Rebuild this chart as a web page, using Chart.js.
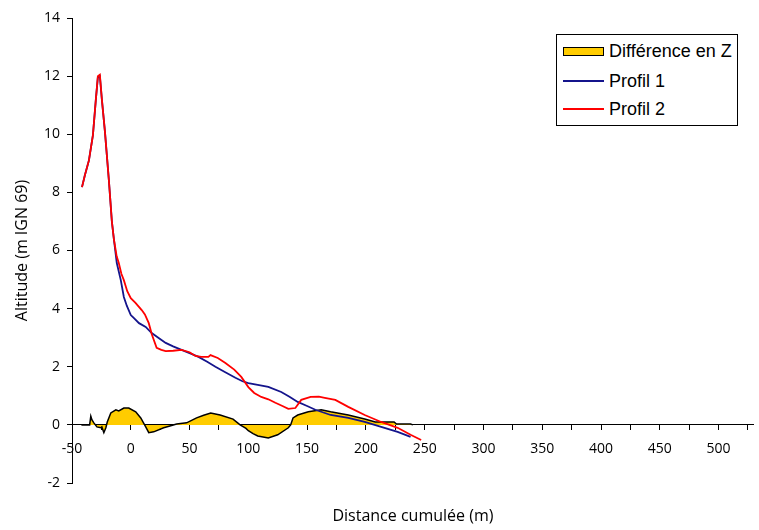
<!DOCTYPE html>
<html><head><meta charset="utf-8">
<script src="https://cdn.jsdelivr.net/npm/chart.js@4"></script>
<style>
html,body{margin:0;padding:0;background:#fff;}
#wrap{position:relative;width:759px;height:530px;}
#legend{position:absolute;left:556px;top:34px;width:182px;height:92px;border:1px solid #000;background:#fff;font-family:"Liberation Sans",Arial,sans-serif;font-size:18px;color:#000;box-sizing:border-box;}
.sw{position:absolute;left:6px;width:41px;box-sizing:border-box;}
.lbl{position:absolute;left:52px;white-space:nowrap;line-height:20px;height:20px;}
</style></head>
<body><div id="wrap"><canvas id="c" width="759" height="530"></canvas><div id="legend"></div></div>
<script>
const seriesNames = ['Différence en Z', 'Profil 1', 'Profil 2'];
const xTitle = 'Distance cumulée (m)';
const yTitle = 'Altitude (m IGN 69)';
const xTicks = [-50,-25,0,25,50,75,100,125,150,175,200,225,250,275,300,325,350,375,400,425,450,475,500,525];
const yTicks = [-2,0,2,4,6,8,10,12,14];

const p1X = [-41.5,-39,-35.6,-32.2,-29.7,-28,-26.3,-24.6,-22,-18.6,-16.1,-14.4,-11.9,-8.5,-5.9,-3.4,0,2.5,7,12.7,17.8,24,29.7,36,43.2,50,57.6,65,72,80,89,95,100,108,117,128,135,142,150,157,170,185,199,213,227,238];
const p1Y = [8.18,8.6,9.1,9.97,11.2,11.95,12.0,11.2,10.1,8.4,7.0,6.4,5.57,4.98,4.4,4.1,3.78,3.68,3.5,3.37,3.16,2.98,2.82,2.7,2.58,2.47,2.34,2.17,2.0,1.82,1.62,1.5,1.44,1.38,1.31,1.13,0.97,0.79,0.65,0.52,0.34,0.24,0.10,-0.07,-0.24,-0.41];

const p2X = [-41.5,-39,-35.6,-32.2,-29.7,-28,-26.3,-24.6,-22,-18.6,-16.1,-14.4,-12,-10.2,-8,-5.9,-3,0,4,9.3,12,15.3,18,22,26,29.7,36,43.2,50,55,60,66,67.8,74,80.5,88,94,100,105,111,117,123,129,134,140,145,153,160,165,174,185,199,213,227,238,247];
const p2Y = [8.18,8.6,9.1,9.97,11.2,12.0,12.05,11.2,10.1,8.4,7.0,6.4,5.8,5.57,5.2,4.98,4.6,4.36,4.2,3.95,3.8,3.5,3.1,2.65,2.58,2.54,2.55,2.58,2.5,2.37,2.34,2.34,2.4,2.3,2.13,1.9,1.65,1.3,1.1,0.96,0.88,0.76,0.65,0.55,0.58,0.86,0.96,0.97,0.93,0.86,0.62,0.34,0.10,-0.10,-0.34,-0.52];

const dX = [-42,-35,-34,-33,-31.4,-28.8,-25.4,-24.6,-22.9,-21.2,-20,-17,-12.7,-10.2,-5.9,-1.7,4.2,8.5,12.7,15.3,19.5,28,34,39,47.5,56,62,68,76,87,93,98,100,104,108,117,125,134,136,138,142,151,162,170,185,199,208,210,224,226,238,240];
const dY = [0,0,0.3,0.17,0.07,-0.07,-0.1,-0.07,-0.27,-0.1,0.1,0.41,0.52,0.48,0.58,0.58,0.45,0.24,-0.07,-0.27,-0.24,-0.1,-0.03,0.03,0.07,0.24,0.33,0.41,0.34,0.2,0,-0.12,-0.2,-0.3,-0.38,-0.45,-0.34,-0.1,0,0.24,0.34,0.45,0.52,0.45,0.34,0.2,0.1,0.1,0.1,0.03,0.03,0];

const colors = ['#ffcc00', '#14148c', '#ff0000'];

function pts(xs, ys) { return xs.map((x, i) => ({x: x, y: ys[i]})); }

Chart.defaults.font.family = '"Open Sans", sans-serif';
Chart.defaults.font.size = 14;
Chart.defaults.color = '#000';

new Chart(document.getElementById('c'), {
  type: 'line',
  data: {
    datasets: [
      {label: seriesNames[0], data: pts(dX, dY), borderColor: '#000', borderWidth: 1.5, backgroundColor: colors[0], fill: 'origin', pointRadius: 0, tension: 0, order: 3},
      {label: seriesNames[1], data: pts(p1X, p1Y), borderColor: colors[1], borderWidth: 1.8, fill: false, pointRadius: 0, tension: 0, order: 2},
      {label: seriesNames[2], data: pts(p2X, p2Y), borderColor: colors[2], borderWidth: 1.8, fill: false, pointRadius: 0, tension: 0, order: 1}
    ]
  },
  options: {
    responsive: false,
    animation: false,
    events: [],
    layout: {padding: {top: 18, right: 2, left: 0, bottom: 0}},
    plugins: {legend: {display: false}, tooltip: {enabled: false}},
    scales: {
      x: {
        type: 'linear', min: -50, max: 530,
        position: {y: 0},
        afterBuildTicks: s => { s.ticks = xTicks.map(v => ({value: v})); },
        ticks: {autoSkip: false, maxRotation: 0, padding: 11, callback: v => (v % 50 === 0 ? String(v) : '')},
        grid: {drawOnChartArea: false, drawTicks: true, tickLength: 5, color: '#000'},
        border: {display: true, color: '#000', width: 1}
      },
      x2: {
        type: 'linear', min: -50, max: 530, position: 'bottom',
        ticks: {display: false},
        grid: {display: false},
        border: {display: false},
        title: {display: true, text: xTitle, font: {size: 16}, padding: {top: 0, bottom: 4}},
        afterFit: s => { s.height = 47; }
      },
      y: {
        type: 'linear', min: -2, max: 14, position: 'left',
        afterBuildTicks: s => { s.ticks = yTicks.map(v => ({value: v})); },
        ticks: {padding: 7},
        grid: {drawOnChartArea: false, drawTicks: true, tickLength: 5, color: '#000'},
        border: {display: true, color: '#000', width: 1},
        title: {display: true, text: yTitle, font: {size: 16}, padding: {top: 13, bottom: 0}},
        afterFit: s => { s.width = 72; }
      }
    }
  }
});

// HTML legend built from the series names/colours
const leg = document.getElementById('legend');
const rowCenters = [16, 46, 74];
seriesNames.forEach((name, i) => {
  const sw = document.createElement('div');
  sw.className = 'sw';
  if (i === 0) {
    sw.style.top = (rowCenters[i] - 4) + 'px';
    sw.style.height = '9px';
    sw.style.background = colors[0];
    sw.style.border = '1.5px solid #000';
  } else {
    sw.style.top = (rowCenters[i] - 1) + 'px';
    sw.style.height = '2px';
    sw.style.background = colors[i];
  }
  leg.appendChild(sw);
  const lb = document.createElement('div');
  lb.className = 'lbl';
  lb.style.top = (rowCenters[i] - 10) + 'px';
  lb.textContent = name;
  leg.appendChild(lb);
});
</script>
</body></html>
